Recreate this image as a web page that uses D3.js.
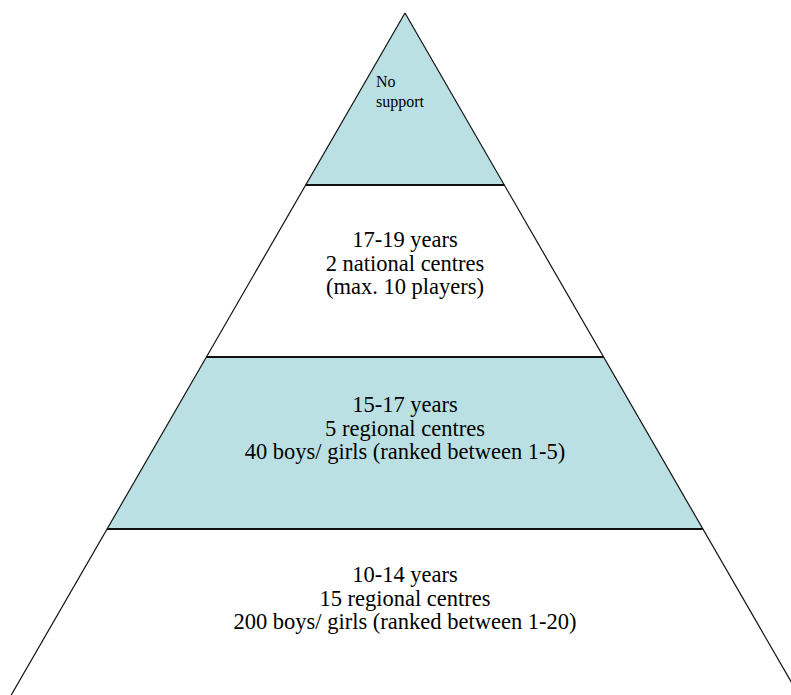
<!DOCTYPE html>
<html>
<head>
<meta charset="utf-8">
<script src="https://cdn.jsdelivr.net/npm/d3@7"></script>
<style>
html,body{margin:0;padding:0;background:#fff;}
svg{display:block;}
</style>
</head>
<body>
<svg id="chart" width="791" height="695"></svg>
<script>
// Levels from top (0) to bottom (3)
const levels = [0, 1, 2, 3];
const levelFills = ["#bbe0e3", "#ffffff", "#bbe0e3", "#ffffff"];
const levelLabels = [
  ["No", "support"],
  ["17-19 years", "2 national centres", "(max. 10 players)"],
  ["15-17 years", "5 regional centres", "40 boys/ girls (ranked between 1-5)"],
  ["10-14 years", "15 regional centres", "200 boys/ girls (ranked between 1-20)"]
];

const FONT = "'Liberation Serif', 'Times New Roman', Times, serif";
const svg = d3.select("#chart");
const apexX = 405;
const y = d3.scaleLinear().domain([0, 4]).range([13, 701]);
const halfW = d3.scaleLinear().domain([13, 701]).range([0, 688 * Math.tan(Math.PI / 6)]);

function trap(i) {
  const y0 = y(i), y1 = y(i + 1);
  const w0 = halfW(y0), w1 = halfW(y1);
  return [[apexX - w0, y0], [apexX + w0, y0], [apexX + w1, y1], [apexX - w1, y1]];
}

svg.selectAll("path.level")
  .data(levels)
  .join("path")
  .attr("class", "level")
  .attr("d", d => d3.line()(trap(d)) + "Z")
  .attr("fill", d => levelFills[d])
  .attr("stroke", "none");

// slanted sides
svg.selectAll("line.side")
  .data([-1, 1])
  .join("line")
  .attr("class", "side")
  .attr("x1", apexX).attr("y1", y(0))
  .attr("x2", s => apexX + s * halfW(y(4))).attr("y2", y(4))
  .attr("stroke", "#111").attr("stroke-width", 1.2);

// horizontal separators
svg.selectAll("line.sep")
  .data([1, 2, 3])
  .join("line")
  .attr("class", "sep")
  .attr("x1", d => apexX - halfW(y(d))).attr("x2", d => apexX + halfW(y(d)))
  .attr("y1", d => y(d)).attr("y2", d => y(d))
  .attr("stroke", "#111").attr("stroke-width", 2);

// top label
svg.append("text")
  .attr("x", 376).attr("y", 87)
  .attr("font-family", FONT)
  .attr("font-size", 16)
  .attr("fill", "#000")
  .selectAll("tspan")
  .data(levelLabels[0])
  .join("tspan")
  .attr("x", 376)
  .attr("dy", (d, i) => i === 0 ? 0 : 20)
  .text(d => d);

// other labels: first baseline offset from layer top
const firstBaselineOffset = [0, 62, 55, 53];
const lineH = 23.5;
levels.slice(1).forEach(i => {
  svg.append("text")
    .attr("text-anchor", "middle")
    .attr("font-family", FONT)
    .attr("font-size", 22.5)
    .attr("fill", "#000")
    .selectAll("tspan")
    .data(levelLabels[i])
    .join("tspan")
    .attr("x", apexX)
    .attr("y", (d, k) => y(i) + firstBaselineOffset[i] + k * lineH)
    .text(d => d);
});
</script>
</body>
</html>
